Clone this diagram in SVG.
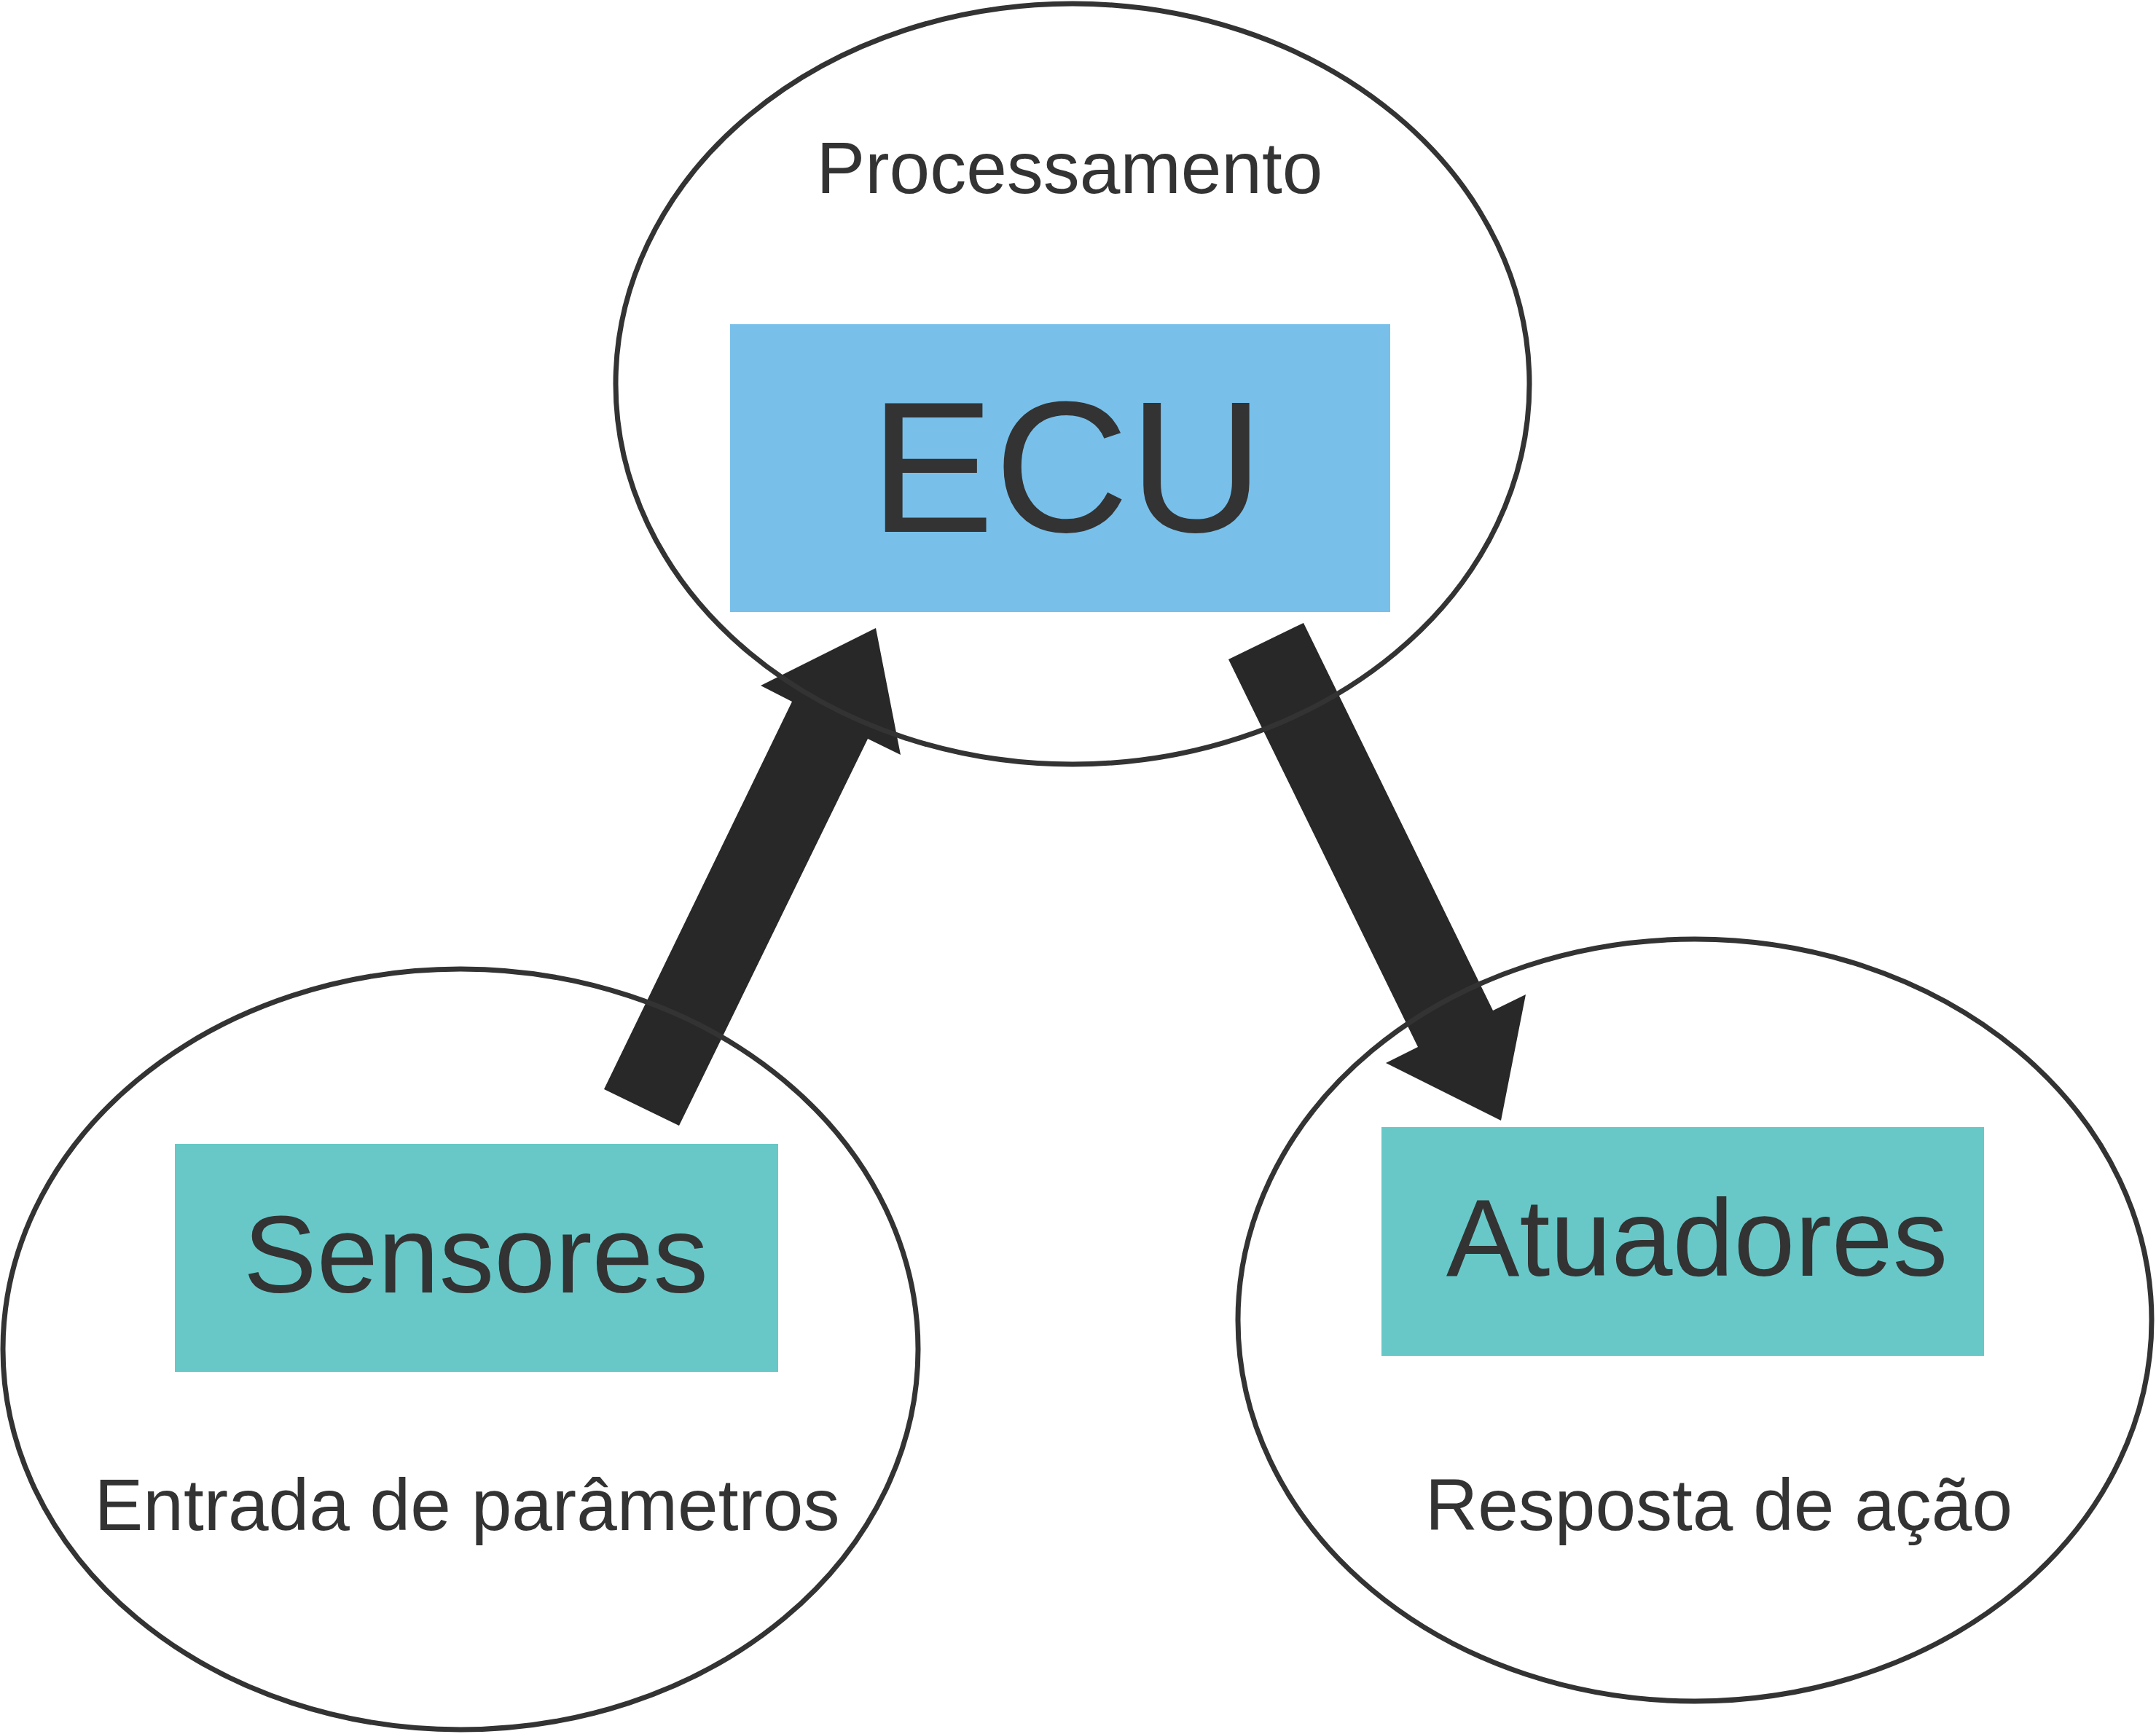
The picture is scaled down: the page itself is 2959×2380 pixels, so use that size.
<svg xmlns="http://www.w3.org/2000/svg" width="2959" height="2380" viewBox="0 0 2959 2380">
<style>
.ell{fill:none;stroke:#333333;stroke-width:7}
.arrow{fill:#282828;stroke:none}
.blue{fill:#78C0EA}
.teal{fill:#68C8C8}
.t{font-family:"Liberation Sans",Arial,sans-serif;fill:#333333;text-anchor:middle}
</style>
<rect width="2959" height="2380" fill="#ffffff"/>
<g id="connectors">
<polygon class="arrow" points="829,1495 932,1545 1191,1014 1236,1036 1202,862 1044,941 1087,963"/>
<polygon class="arrow" points="1686,905 1789,855 2049,1387 2094,1365 2060,1538 1902,1459 1946,1437"/>
</g>
<g id="node-ecu">
<rect class="blue" x="1002" y="445" width="906" height="395"/>
<text class="t" x="1464" y="730" font-size="256">ECU</text>
<text class="t" x="1468" y="265" font-size="100">Processamento</text>
<ellipse class="ell" cx="1472" cy="527" rx="627" ry="522"/>
</g>
<g id="node-sensores">
<rect class="teal" x="240" y="1570" width="828" height="313"/>
<text class="t" x="653" y="1774" font-size="151">Sensores</text>
<text class="t" x="641" y="2100" font-size="100">Entrada de parâmetros</text>
<ellipse class="ell" cx="632" cy="1852" rx="628" ry="522"/>
</g>
<g id="node-atuadores">
<rect class="teal" x="1896" y="1547" width="827" height="314"/>
<text class="t" x="2329" y="1751" font-size="151">Atuadores</text>
<text class="t" x="2359" y="2100" font-size="100">Resposta de ação</text>
<ellipse class="ell" cx="2326" cy="1812" rx="627" ry="523"/>
</g>
</svg>
